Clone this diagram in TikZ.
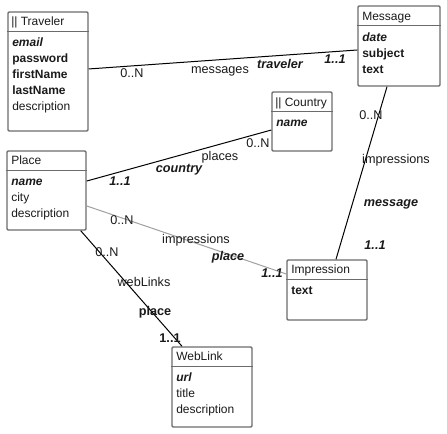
\documentclass[tikz,border=0pt]{standalone}
\usepackage{fontspec}
\setmainfont{Liberation Sans}
\usetikzlibrary{fit}
\definecolor{boxgray}{HTML}{6B6B6B}
\definecolor{linkgray}{HTML}{A0A0A0}
\definecolor{txtgray}{HTML}{1A1A1A}
\begin{document}
\begin{tikzpicture}[x=0.75pt,y=-0.75pt,
  umlbox/.style={draw=boxgray, line width=1.1pt, rounded corners=0.8pt, inner sep=0pt},
  sep/.style={draw=boxgray, line width=1.1pt},
  txt/.style={anchor=west, inner sep=0pt, text height=7pt, text depth=2pt, text=txtgray, font=\fontsize{9}{11}\selectfont},
  bi/.style={txt, font=\fontsize{9}{11}\selectfont\bfseries\itshape},
  bo/.style={txt, font=\fontsize{9}{11}\selectfont\bfseries},
  lbl/.style={inner sep=0pt, text height=7pt, text depth=2pt, text=txtgray, font=\fontsize{9.5}{11}\selectfont},
  rl/.style={lbl, font=\fontsize{9.5}{11}\selectfont\bfseries\itshape},
  link/.style={draw=black, line width=0.75pt},
  glink/.style={draw=linkgray, line width=0.75pt},
]
\useasboundingbox (0,0) rectangle (447,434);

% ---- boxes
\node[umlbox, fit={(8,12) (88,131)}] (trav) {};
\draw[sep] ([yshift=-15pt]trav.north west) -- ([yshift=-15pt]trav.north east);
\node[txt] (travh) at (11,22) {|| Traveler};
\node[bi] (trav1) at (12,43) {email};
\node[bo] (trav2) at (12,59) {password};
\node[bo] (trav3) at (12,75) {firstName};
\node[bo] (trav4) at (12,91) {lastName};
\node[txt] (trav5) at (12,107) {description};

\node[umlbox, fit={(358,6) (440,86)}] (msg) {};
\draw[sep] ([yshift=-15pt]msg.north west) -- ([yshift=-15pt]msg.north east);
\node[txt] (msgh) at (362,17) {Message};
\node[bi] (msg1) at (362,38) {date};
\node[bo] (msg2) at (362,54) {subject};
\node[bo] (msg3) at (362,70) {text};

\node[umlbox, fit={(272,92) (332,151)}] (ctry) {};
\draw[sep] ([yshift=-15pt]ctry.north west) -- ([yshift=-15pt]ctry.north east);
\node[txt] (ctryh) at (275,103) {|| Country};
\node[bi] (ctry1) at (276,123) {name};

\node[umlbox, fit={(7,151) (86,230)}] (plc) {};
\draw[sep] ([yshift=-15pt]plc.north west) -- ([yshift=-15pt]plc.north east);
\node[txt] (plch) at (11,161) {Place};
\node[bi] (plc1) at (11,182) {name};
\node[txt] (plc2) at (11,198) {city};
\node[txt] (plc3) at (11,214) {description};

\node[umlbox, fit={(287,260) (367,320)}] (imp) {};
\draw[sep] ([yshift=-15pt]imp.north west) -- ([yshift=-15pt]imp.north east);
\node[txt] (imph) at (291,270) {Impression};
\node[bo] (imp1) at (291,291) {text};

\node[umlbox, fit={(172,347) (252,427)}] (wl) {};
\draw[sep] ([yshift=-15pt]wl.north west) -- ([yshift=-15pt]wl.north east);
\node[txt] (wlh) at (176,357) {WebLink};
\node[bi] (wl1) at (176,378) {url};
\node[txt] (wl2) at (176,394) {title};
\node[txt] (wl3) at (176,410) {description};

% ---- connectors
\draw[link] ([yshift=1.9pt]trav.east) -- ([yshift=-3pt]msg.west);
\node[lbl] (l1a) at (132,74) {0..N};
\node[lbl] (l1b) at (220,70) {messages};
\node[rl]  (l1c) at (280,65) {traveler};
\node[rl]  (l1d) at (335,60) {1..1};

\draw[link] ([yshift=7.1pt]plc.east) -- ([yshift=-6.4pt]ctry.west);
\node[lbl] (l2a) at (258,144) {0..N};
\node[lbl] (l2b) at (220,157) {places};
\node[rl]  (l2c) at (179,169) {country};
\node[rl]  (l2d) at (120,182) {1..1};

\draw[glink] ([yshift=-11.6pt]plc.east) -- ([yshift=12pt]imp.west);
\node[lbl] (l3a) at (122,221) {0..N};
\node[lbl] (l3b) at (196,240) {impressions};
\node[rl]  (l3c) at (228,257) {place};
\node[rl]  (l3d) at (272,274) {1..1};

\draw[link] ([xshift=-4.5pt]plc.south east) -- ([xshift=-22.5pt]wl.north);
\node[lbl] (l4a) at (107,253) {0..N};
\node[lbl] (l4b) at (144,283) {webLinks};
\node[lbl, font=\fontsize{9.5}{11}\selectfont\bfseries] (l4c) at (155,312) {place};
\node[lbl, font=\fontsize{9.5}{11}\selectfont\bfseries] (l4d) at (170,339) {1..1};

\draw[link] ([xshift=-9pt]msg.south) -- ([xshift=6.75pt]imp.north);
\node[lbl] (l5a) at (371,116) {0..N};
\node[lbl] (l5b) at (396,160) {impressions};
\node[rl]  (l5c) at (391,203) {message};
\node[rl]  (l5d) at (375,246) {1..1};
\end{tikzpicture}
\end{document}
